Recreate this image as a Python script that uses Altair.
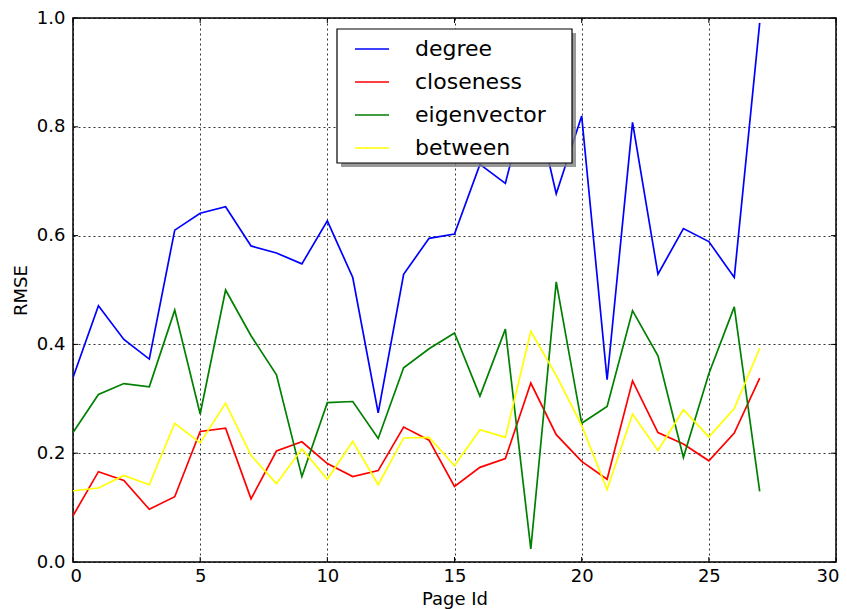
import altair as alt
import pandas as pd

page_ids = list(range(28))
degree = [0.339, 0.471, 0.409, 0.373, 0.610, 0.641, 0.653, 0.581, 0.568, 0.548,
          0.627, 0.523, 0.274, 0.529, 0.595, 0.603, 0.731, 0.696, 0.880, 0.677,
          0.820, 0.335, 0.808, 0.529, 0.613, 0.589, 0.523, 0.991]
closeness = [0.085, 0.166, 0.150, 0.097, 0.120, 0.240, 0.246, 0.116, 0.204, 0.221,
             0.181, 0.157, 0.168, 0.248, 0.224, 0.139, 0.174, 0.190, 0.329, 0.234,
             0.185, 0.152, 0.333, 0.238, 0.217, 0.186, 0.237, 0.338]
eigenvector = [0.238, 0.308, 0.328, 0.322, 0.463, 0.272, 0.500, 0.416, 0.344, 0.157,
               0.293, 0.295, 0.227, 0.357, 0.392, 0.421, 0.305, 0.428, 0.024, 0.515,
               0.255, 0.286, 0.462, 0.379, 0.192, 0.346, 0.469, 0.130]
between = [0.131, 0.136, 0.159, 0.142, 0.255, 0.219, 0.292, 0.196, 0.144, 0.208,
           0.152, 0.222, 0.142, 0.228, 0.229, 0.177, 0.243, 0.229, 0.424, 0.343,
           0.251, 0.133, 0.272, 0.205, 0.280, 0.230, 0.282, 0.393]

series_names = ["degree", "closeness", "eigenvector", "between"]
series_colors = ["#0000ff", "#ff0000", "#008000", "#ffff00"]
x_ticks = [0, 5, 10, 15, 20, 25, 30]
y_ticks = [0.0, 0.2, 0.4, 0.6, 0.8, 1.0]

W, H = 763, 544
FONT = "DejaVu Sans"

rows = []
for name, vals in zip(series_names, [degree, closeness, eigenvector, between]):
    for i, v in zip(page_ids, vals):
        rows.append({"page": i, "rmse": v, "series": name})
df = pd.DataFrame(rows)

xscale = alt.Scale(domain=[0, 30], nice=False, zero=False)
yscale = alt.Scale(domain=[0, 1], nice=False)

lines = alt.Chart(df).mark_line(strokeWidth=1.7, clip=True).encode(
    x=alt.X("page:Q", scale=xscale, title="Page Id",
            axis=alt.Axis(values=x_ticks, format="d", grid=True, ticks=False,
                          domain=False, labelPadding=5, titlePadding=5,
                          labelFlush=True, labelFlushOffset=3)),
    y=alt.Y("rmse:Q", scale=yscale, title="RMSE",
            axis=alt.Axis(values=y_ticks, format=".1f", grid=True, ticks=False,
                          domain=False, labelPadding=8, titlePadding=6,
                          labelFlush=False)),
    color=alt.Color("series:N",
                    scale=alt.Scale(domain=series_names, range=series_colors),
                    sort=series_names,
                    legend=alt.Legend(title=None, orient="none", legendX=266, legendY=13,
                                      symbolType="stroke", symbolSize=1156,
                                      symbolStrokeWidth=1.5, labelFontSize=22,
                                      labelFont=FONT, labelColor="black",
                                      labelOffset=25, rowPadding=4, padding=0,
                                      symbolOffset=15)),
)

# legend box with shadow (decoration)
lx, ly, lw, lh = 264, 11, 235, 134
shadow = alt.Chart(pd.DataFrame({"a": [0]})).mark_rect(
    color="#7f7f7f", opacity=0.8).encode(
    x=alt.value(lx + 4), x2=alt.value(lx + lw + 4),
    y=alt.value(ly + 4), y2=alt.value(ly + lh + 4))
box = alt.Chart(pd.DataFrame({"a": [0]})).mark_rect(
    fill="white", stroke="black", strokeWidth=1.2).encode(
    x=alt.value(lx), x2=alt.value(lx + lw),
    y=alt.value(ly), y2=alt.value(ly + lh))

# inside ticks on all four sides
xt = pd.DataFrame({"t": x_ticks})
yt = pd.DataFrame({"t": y_ticks})
TL = 5
tick_b = alt.Chart(xt).mark_rule(color="black", strokeWidth=1).encode(
    x=alt.X("t:Q", scale=xscale), y=alt.value(H), y2=alt.value(H - TL))
tick_t = alt.Chart(xt).mark_rule(color="black", strokeWidth=1).encode(
    x=alt.X("t:Q", scale=xscale), y=alt.value(0), y2=alt.value(TL))
tick_l = alt.Chart(yt).mark_rule(color="black", strokeWidth=1).encode(
    y=alt.Y("t:Q", scale=yscale), x=alt.value(0), x2=alt.value(TL))
tick_r = alt.Chart(yt).mark_rule(color="black", strokeWidth=1).encode(
    y=alt.Y("t:Q", scale=yscale), x=alt.value(W), x2=alt.value(W - TL))

chart = alt.layer(lines, tick_b, tick_t, tick_l, tick_r, shadow, box).properties(
    width=W, height=H,
    background="white",
    autosize=alt.AutoSizeParams(type="none"),
    padding={"left": 65, "top": 10, "right": 3, "bottom": 47},
).configure_view(
    stroke="black", strokeWidth=1.5
).configure_axis(
    labelFont=FONT, titleFont=FONT, labelFontSize=18, titleFontSize=18,
    labelColor="black", titleColor="black", titleFontWeight="normal",
    gridColor="black", gridOpacity=0.8, gridWidth=1, gridDash=[2, 3],
)

chart.save("out.html", embed_options={"renderer": "svg", "actions": False})
